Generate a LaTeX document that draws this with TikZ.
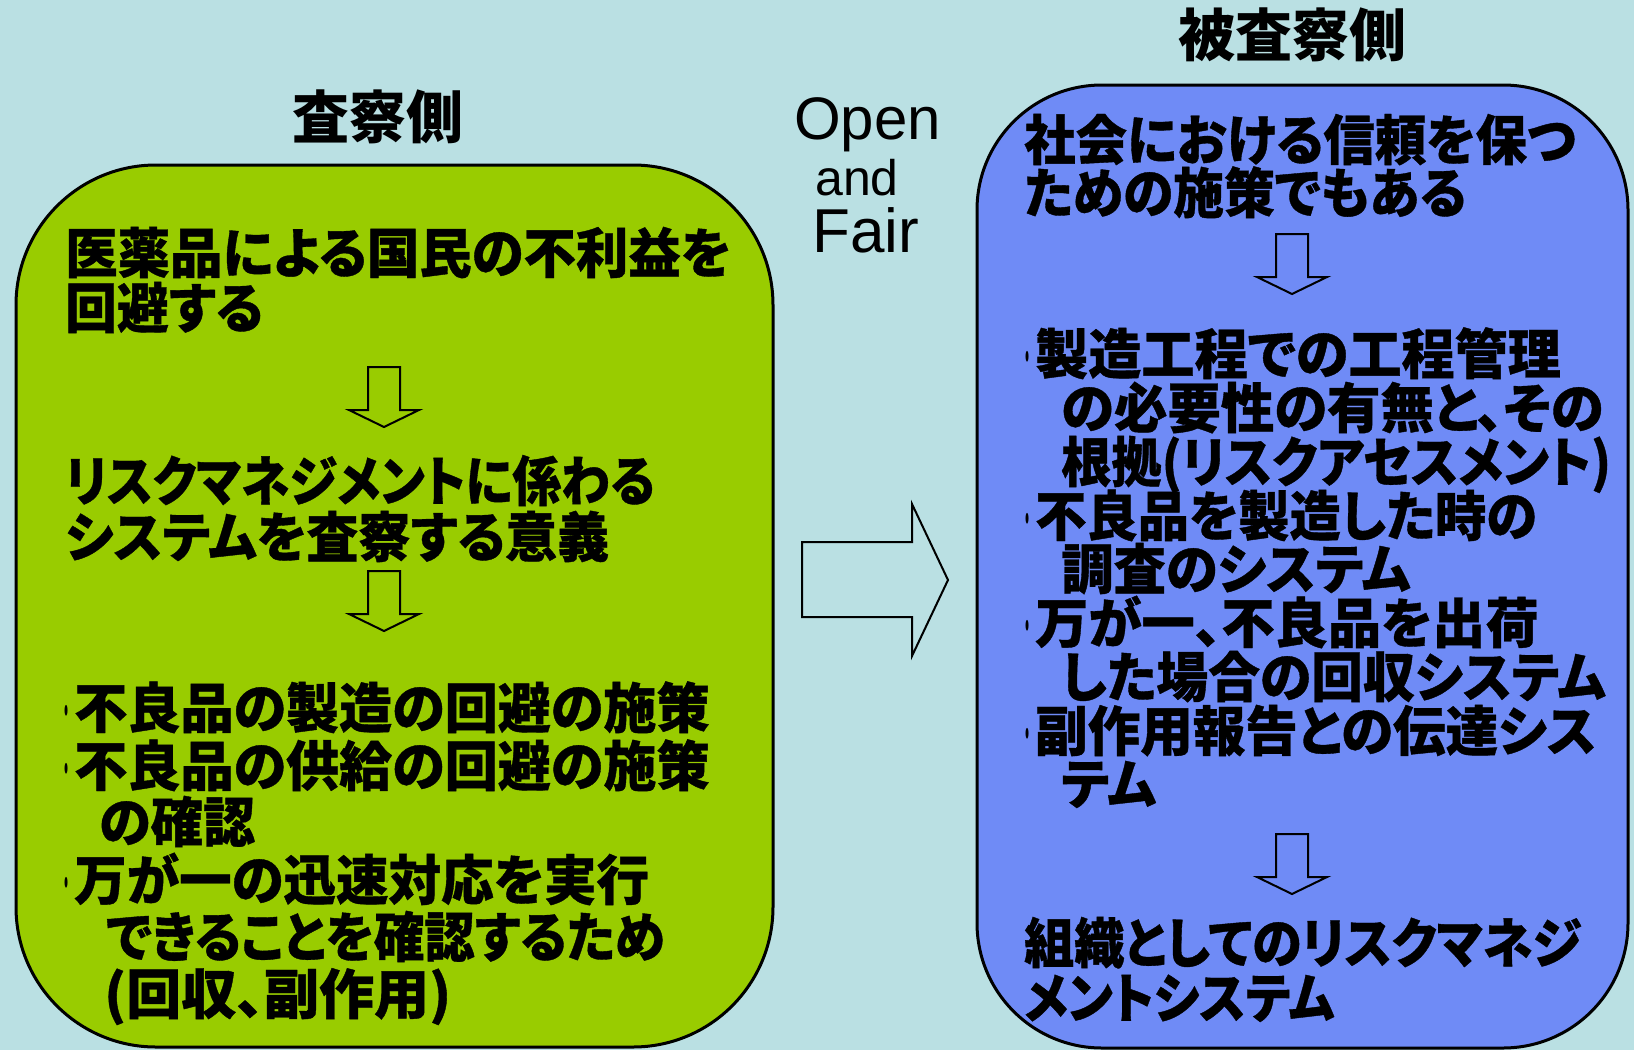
\documentclass[tikz,border=0pt]{standalone}
\usepackage{fontspec}
\setmainfont{Liberation Sans}
\newfontfamily\jpt{Noto Sans CJK JP}[RawFeature={+palt}]
\newfontfamily\jpb{Noto Sans CJK JP}[RawFeature={+palt},BoldFeatures={FakeBold=0.7}]
\definecolor{bgc}{HTML}{BAE0E3}
\definecolor{lgreen}{HTML}{99CC00}
\definecolor{lblue}{HTML}{6F8BF6}
\newcommand{\blt}{\makebox[10pt][l]{\raisebox{6pt}{\scalebox{0.3}[1]{\jpt\mdseries\fontsize{40}{40}\selectfont •}}}}
\newcommand{\sx}[2]{\scalebox{#1}[1]{#2}}
\tikzset{
  body/.style={anchor=base west, inner sep=0pt, font=\jpb\bfseries\fontsize{54}{60}\selectfont},
  ttl/.style={inner sep=0pt, font=\jpt\bfseries\fontsize{57}{60}\selectfont},
  eng/.style={anchor=base west, inner sep=0pt},
  box/.style={draw=black, line width=3pt, inner sep=0pt},
  barrow/.style={draw=black, line width=2pt, line join=miter},
}
\newcommand{\downarr}[1]{%
  \draw[barrow] ($(#1)+(-16,0)$) -- ++(32,0) -- ++(0,43) -- ++(19,0) -- ++(-35,17) -- ++(-35,-17) -- ++(19,0) -- cycle;}
\usetikzlibrary{calc}
\begin{document}
\begin{tikzpicture}[x=1pt,y=-1pt]
\useasboundingbox (0,0) rectangle (1634,1050);
\fill[bgc] (0,0) rectangle (1634,1050);

% boxes
\node[box, fill=lgreen, rounded corners=140pt, minimum width=757pt, minimum height=882pt] (lbox) at (394.5,606) {};
\node[box, fill=lblue, rounded corners=125pt, minimum width=651pt, minimum height=963pt] (rbox) at (1302.5,566.5) {};

% titles
\node[ttl] (t1) at (378,117) {査察側};
\node[ttl] (t2) at (1292,35) {被査察側};

% Open and Fair
\node[eng, font=\fontsize{60}{60}\selectfont] (open) at (794,139) {Open};
\node[eng, font=\fontsize{50}{50}\selectfont] (and) at (815,195) {and};
\node[eng, font=\fontsize{62}{62}\selectfont] (fair) at (812,252) {Fair};

% big right arrow
\draw[barrow] (802,542) -- (912,542) -- (912,504) -- (948,580) -- (912,656) -- (912,617) -- (802,617) -- cycle;

% left texts
\node[body] (l1) at (65,273) {\sx{0.971}{医薬品による国民の不利益を}};
\node[body] (l2) at (65,328) {\sx{0.96}{回避する}};
\node[body] (l3) at (65,501) {\sx{0.90}{リスクマネジメントに係わる}};
\node[body] (l4) at (65,557) {\sx{0.963}{システムを査察する意義}};
\node[body] (l5) at (64,728) {\blt\sx{0.984}{不良品の製造の回避の施策}};
\node[body] (l6) at (64,786) {\blt\sx{0.984}{不良品の供給の回避の施策}};
\node[body] (l7) at (99,842) {\sx{0.967}{の確認}};
\node[body] (l8) at (64,900) {\blt\sx{0.973}{万が一の迅速対応を実行}};
\node[body] (l9) at (106,957) {\sx{0.934}{できることを確認するため}};
\node[body] (l10) at (104,1014) {\sx{1.02}{(回収、副作用)}};

% right texts
\node[body] (r1) at (1024,160) {\sx{0.952}{社会における信頼を保つ}};
\node[body] (r2) at (1024,213) {\sx{0.94}{ための施策でもある}};
\node[body] (r3) at (1025,374) {\blt\sx{0.984}{製造工程での工程管理}};
\node[body] (r4) at (1061,428) {\sx{0.99}{の必要性の有無と、その}};
\node[body] (r5) at (1061,482) {\sx{0.93}{根拠(リスクアセスメント)}};
\node[body] (r6) at (1025,536) {\blt\sx{0.95}{不良品を製造した時の}};
\node[body] (r7) at (1061,589) {\sx{0.97}{調査のシステム}};
\node[body] (r8) at (1025,643) {\blt\sx{0.986}{万が一、不良品を出荷}};
\node[body] (r9) at (1061,697) {\sx{0.96}{した場合の回収システム}};
\node[body] (r10) at (1025,751) {\blt\sx{0.973}{副作用報告との伝達シス}};
\node[body] (r11) at (1061,804) {\sx{0.97}{テム}};
\node[body] (r12) at (1024,963) {\sx{0.927}{組織としてのリスクマネジ}};
\node[body] (r13) at (1024,1018) {\sx{0.908}{メントシステム}};

% down arrows
\coordinate (da1) at (384,367);
\coordinate (da2) at (384,571);
\coordinate (da3) at (1292,234);
\coordinate (da4) at (1292,834);
\downarr{da1}
\downarr{da2}
\downarr{da3}
\downarr{da4}
\end{tikzpicture}
\end{document}
